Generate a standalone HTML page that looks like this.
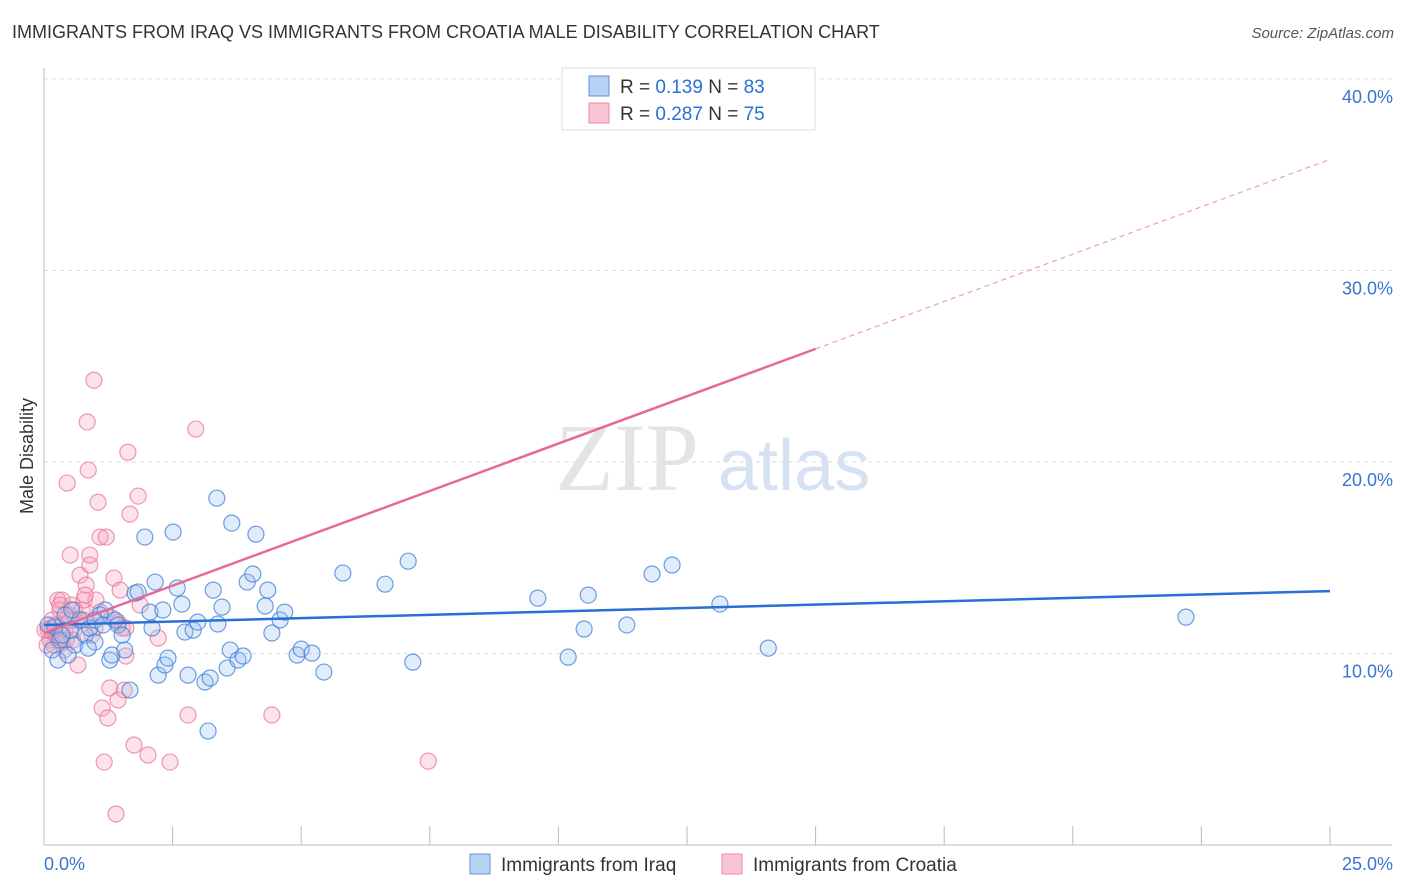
<!DOCTYPE html>
<html><head><meta charset="utf-8"><style>
body{margin:0;background:#fff;font-family:"Liberation Sans",sans-serif;}
#wrap{position:relative;width:1406px;height:892px;overflow:hidden;}
.t{position:absolute;white-space:nowrap;}
</style></head><body>
<div id="wrap">
<div class="t" style="left:12px;top:22px;font-size:18px;color:#333;">IMMIGRANTS FROM IRAQ VS IMMIGRANTS FROM CROATIA MALE DISABILITY CORRELATION CHART</div>
<div class="t" style="right:12px;top:25px;font-size:15px;color:#555;font-style:italic;">Source: ZipAtlas.com</div>
<svg id="svg" width="1406" height="892" style="position:absolute;left:0;top:0"></svg>
</div>
<script>
const xTicks=[0,25];
const yTicks=[10,20,30,40];
const iraqX=[0.21,0.31,0.41,0.51,0.60,0.70,0.80,0.89,0.99,1.09,1.19,1.28,1.32,1.38,1.44,1.52,1.57,1.67,1.77,1.83,1.96,2.06,2.10,2.16,2.22,2.31,2.35,2.41,2.51,2.59,2.68,2.74,2.80,2.90,2.99,3.13,3.19,3.23,3.29,3.36,3.38,3.46,3.56,3.62,3.65,3.77,3.87,3.95,4.06,4.12,4.30,4.35,4.43,4.59,4.68,4.92,5.00,5.21,5.44,5.81,6.63,7.08,7.17,9.60,10.19,10.50,10.58,11.33,11.82,12.21,13.14,14.08,22.20,0.08,0.16,0.27,0.35,0.47,0.54,0.86,0.99,1.15];
const iraqY=[11.38,10.70,12.01,11.22,10.44,11.75,10.96,11.33,10.60,12.01,12.27,9.66,9.92,11.75,11.49,10.96,10.18,8.09,13.15,13.21,16.08,12.16,11.33,13.73,8.87,12.27,9.40,9.76,16.34,13.42,12.58,11.12,8.87,11.22,11.64,8.51,5.95,8.72,13.31,18.11,11.54,12.42,9.24,10.18,16.81,9.66,9.87,13.73,14.15,16.23,12.48,13.31,11.07,11.75,12.16,9.92,10.23,10.02,9.03,14.20,13.62,14.82,9.55,12.89,9.81,11.28,13.05,11.49,14.15,14.62,12.58,10.28,11.90,11.49,10.18,9.66,10.96,9.92,12.27,10.28,11.75,11.49];
const croX=[0.08,0.12,0.16,0.19,0.23,0.27,0.31,0.35,0.39,0.43,0.47,0.51,0.54,0.58,0.62,0.66,0.70,0.74,0.78,0.82,0.86,0.89,0.93,0.97,1.01,1.05,1.09,1.13,1.17,1.21,1.24,1.28,1.32,1.36,1.40,1.44,1.48,1.52,1.56,1.59,1.63,1.67,1.75,1.83,1.87,2.02,2.22,2.45,2.80,2.95,4.43,7.47,0.45,0.35,0.60,0.76,0.89,0.99,10.32,0.12,0.16,0.21,0.27,0.02,0.06,0.31,0.41,0.51,0.56,0.80,1.09,1.44,1.59,0.35,0.84];
const croY=[11.22,10.70,11.75,10.44,10.96,12.79,12.27,11.49,10.18,10.70,12.01,15.14,12.53,11.22,11.75,9.40,14.09,12.27,12.79,13.57,19.58,14.62,10.96,24.27,12.79,17.90,16.08,7.15,4.33,16.08,6.63,8.20,11.85,13.94,1.62,7.57,13.31,11.33,8.09,9.87,20.51,17.28,5.22,18.22,12.53,4.70,10.81,4.33,6.79,21.72,6.79,4.38,18.90,12.79,12.27,11.75,15.14,11.33,38.5,11.33,11.12,11.49,10.70,11.22,10.44,12.53,11.22,11.75,10.70,13.05,12.16,11.64,11.33,10.54,22.09];
const iraqTrend=[11.49,13.26];
const croTrend=[11.07,35.8];

const X0=44,X1=1330,Y0=845,PPY=19.15;
const sx=v=>X0+(X1-X0)*v/25;
const sy=v=>Y0-v*PPY;
const svg=document.getElementById('svg');
const NS='http://www.w3.org/2000/svg';
function mk(tag,attrs){const e=document.createElementNS(NS,tag);for(const k in attrs)e.setAttribute(k,attrs[k]);svg.appendChild(e);return e;}

// watermark
let w=mk('text',{x:555,y:490,'font-size':96,'font-family':'Liberation Serif, serif',fill:'#e4e4e4'});w.textContent='ZIP';


let w2=mk('text',{x:718,y:490,'font-size':72,'font-family':'Liberation Sans, sans-serif',fill:'#d6e2f3'});w2.textContent='atlas';



yTicks.forEach(t=>{
 const g=mk('line',{x1:X0,x2:1392,y1:sy(t),y2:sy(t),stroke:'#ddd','stroke-dasharray':'4,4'});
 
 
 const l=mk('text',{x:1393,y:sy(t)+24,'text-anchor':'end','font-size':18,fill:'#3b73d1'});l.textContent=t.toFixed(1)+'%';
 
 
});
let ax=mk('line',{x1:X0,x2:X0,y1:68,y2:Y0,stroke:'#bbb'});


let bx=mk('line',{x1:X0,x2:1392,y1:Y0,y2:Y0,stroke:'#bbb'});


for(let i=1;i<=10;i++){const tk=mk('line',{x1:sx(i*2.5),x2:sx(i*2.5),y1:826,y2:Y0,stroke:'#bbb'});
 
 }
xTicks.forEach((t,i)=>{const l=mk('text',{x:i?1393:44,y:870,'text-anchor':i?'end':'start','font-size':18,fill:'#3b73d1'});l.textContent=t.toFixed(1)+'%';
 
 });
let yt=mk('text',{x:0,y:0,'font-size':18,fill:'#333','text-anchor':'middle',transform:'translate(33,456) rotate(-90)'});yt.textContent='Male Disability';



function pts(xs,ys,fill,stroke,name){xs.forEach((x,i)=>{const c=mk('circle',{cx:sx(x),cy:sy(ys[i]),r:8,fill:fill,'fill-opacity':0.3,stroke:stroke,'stroke-opacity':0.75,'stroke-width':1.2});
 
 });}
pts(croX,croY,'#f4a0b8','#e8779b','croatia-point');
pts(iraqX,iraqY,'#9cc0ee','#3d7fd9','iraq-point');

let bl=mk('line',{x1:sx(0),y1:sy(iraqTrend[0]),x2:sx(25),y2:sy(iraqTrend[1]),stroke:'#2a6fd6','stroke-width':2.5});


const cAt=x=>croTrend[0]+(croTrend[1]-croTrend[0])*x/25;
let pl=mk('line',{x1:sx(0),y1:sy(cAt(0)),x2:sx(15),y2:sy(cAt(15)),stroke:'#e56a95','stroke-width':2.5});


let pd=mk('line',{x1:sx(15),y1:sy(cAt(15)),x2:sx(25),y2:sy(cAt(25)),stroke:'#e8a0b8','stroke-width':1.2,'stroke-dasharray':'5,4'});



// top legend
let lb=mk('rect',{x:562,y:68,width:253,height:62,fill:'#fff',stroke:'#ddd'});


[['#b9d3f4','#5b8fdb','0.139','83',86],['#f9c4d3','#e88aa8','0.287','75',113]].forEach(r=>{
 const s=mk('rect',{x:589,y:r[4]-10,width:20,height:20,fill:r[0],stroke:r[1]});
 
 
 const t=mk('text',{x:620,y:r[4]+7,'font-size':19,fill:'#333'});
 t.innerHTML='R = <tspan fill="#2a6fd6"> '+r[2]+'</tspan>    N = <tspan fill="#2a6fd6">'+r[3]+'</tspan>';
 t.setAttribute('xml:space','preserve');
 
 
});
// bottom legend
[['#b9d3f4','#5b8fdb',470,'Immigrants from Iraq'],['#f9c4d3','#e88aa8',722,'Immigrants from Croatia']].forEach(r=>{
 const s=mk('rect',{x:r[2],y:854,width:20,height:20,fill:r[0],stroke:r[1]});
 
 
 const t=mk('text',{x:r[2]+31,y:871,'font-size':19,fill:'#333'});t.textContent=r[3];
 
 
});
</script>
</body></html>
